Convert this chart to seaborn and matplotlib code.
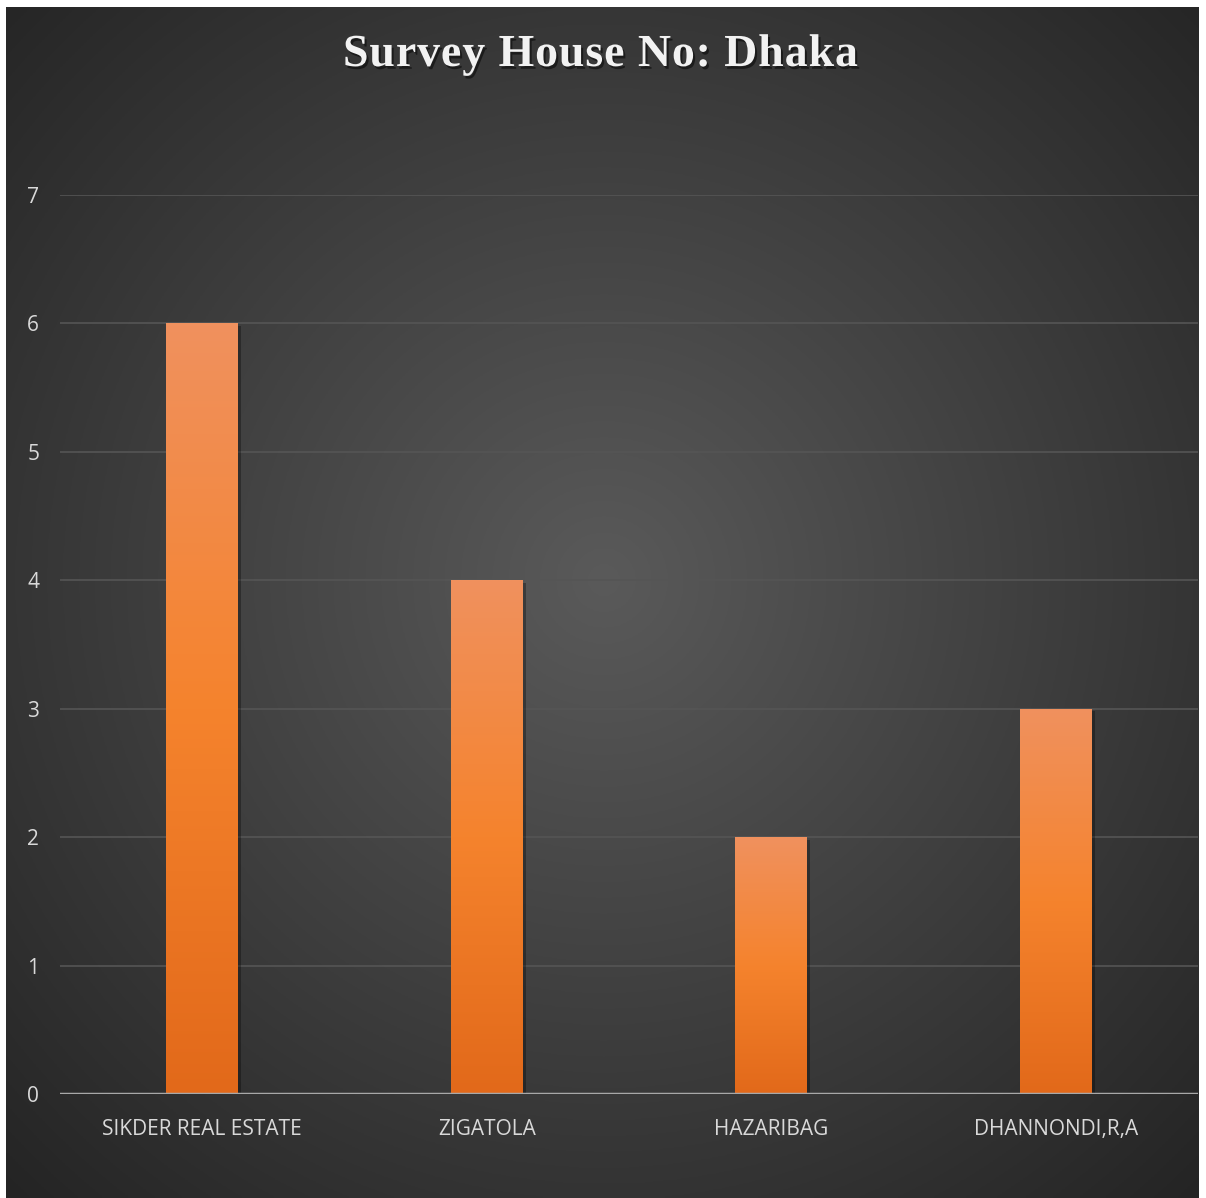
import numpy as np
import pandas as pd
import matplotlib
matplotlib.use("Agg")
import matplotlib.pyplot as plt
import matplotlib.patheffects as pe
from matplotlib.font_manager import FontProperties
import seaborn as sns
from matplotlib.colors import LinearSegmentedColormap

categories = ["SIKDER REAL ESTATE", "ZIGATOLA", "HAZARIBAG", "DHANNONDI,R,A"]
values = [6, 4, 2, 3]
yticks = [0, 1, 2, 3, 4, 5, 6, 7]
title = "Survey House No: Dhaka"

W, H = 1206, 1198
fig = plt.figure(figsize=(W / 100, H / 100), dpi=100)
fig.patch.set_facecolor("white")

# background panel with radial gradient
bx0, bx1, by0, by1 = 6, 1199, 7, 1198
bg = fig.add_axes([bx0 / W, 1 - by1 / H, (bx1 - bx0) / W, (by1 - by0) / H], zorder=-10)
ny, nx = 400, 400
yy, xx = np.mgrid[0:ny, 0:nx]
cx, cy = nx * 0.5, ny * 0.48
r = np.sqrt((xx - cx) ** 2 + (yy - cy) ** 2) / (nx * 0.72)
r = np.clip(r, 0, 1)
c_in = np.array([0x5a, 0x5a, 0x5a]) / 255
c_out = np.array([0x24, 0x24, 0x24]) / 255
img = c_in[None, None, :] * (1 - r[..., None]) + c_out[None, None, :] * r[..., None]
bg.imshow(img, aspect="auto", extent=[0, 1, 0, 1], origin="upper")
bg.set_axis_off()

# main axes
ax_l, ax_r = 60, 1198
ax_t, ax_b = 195, 1094
ax = fig.add_axes([ax_l / W, 1 - ax_b / H, (ax_r - ax_l) / W, (ax_b - ax_t) / H])
ax.patch.set_alpha(0)

df = pd.DataFrame({"cat": categories, "val": values})
sns.barplot(data=df, x="cat", y="val", ax=ax, color="#F07F2A", width=0.253,
            saturation=1, zorder=3)

cmap = LinearSegmentedColormap.from_list(
    "bar", [(0, "#E2691A"), (0.5, "#F5832D"), (1.0, "#F0915E")])
grad = np.linspace(0, 1, 256)[:, None]
for p in ax.patches:
    x0, y0 = p.get_x(), p.get_y()
    w, h = p.get_width(), p.get_height()
    im = ax.imshow(grad, cmap=cmap, aspect="auto", origin="lower",
                   extent=[x0, x0 + w, y0, y0 + h], zorder=4)
    im.set_clip_path(p)
    p.set_path_effects([pe.SimplePatchShadow(offset=(2, -2), shadow_rgbFace="black", alpha=0.3), pe.Normal()])

ax.set_xlim(-0.5, 3.5)
ax.set_ylim(0, 7)
ax.set_yticks(yticks)
ax.set_yticklabels([str(t) for t in yticks])
ax.grid(axis="y", color="#555555", lw=1.2, zorder=1)
ax.grid(axis="x", visible=False)
ax.axhline(0, color="#A8A8A8", lw=2.5, zorder=5)
for s in ax.spines.values():
    s.set_visible(False)
ax.tick_params(axis="both", length=0, colors="#D9D9D9", labelsize=15)
ax.tick_params(axis="y", pad=15)
ax.tick_params(axis="x", pad=18)
for lab in ax.get_xticklabels() + ax.get_yticklabels():
    lab.set_fontfamily("Open Sans")
ax.set_xlabel("")
ax.set_ylabel("")

# title with letter spacing
fp = FontProperties(family="Liberation Serif", weight="bold", size=33)
renderer = fig.canvas.get_renderer()
def adv(s):
    if not s:
        return 0.0
    w, _, _ = renderer.get_text_width_height_descent(s.replace(" ", "\u00a0"), fp, ismath=False)
    return w
target_l, target_r = 343, 858
base_w = adv(title)
extra = (target_r - target_l - base_w) / (len(title) - 1)
ty = 1 - 55 / H
for i, ch in enumerate(title):
    if ch == " ":
        continue
    xpix = target_l + adv(title[:i]) + i * extra
    fig.text(xpix / W, ty, ch, ha="left", va="center", fontproperties=fp, color="#F2F2F2",
             path_effects=[pe.withSimplePatchShadow(offset=(1.5, -2), shadow_rgbFace="black", alpha=0.5)])

fig.savefig("out.png", dpi=100, facecolor=fig.get_facecolor())
